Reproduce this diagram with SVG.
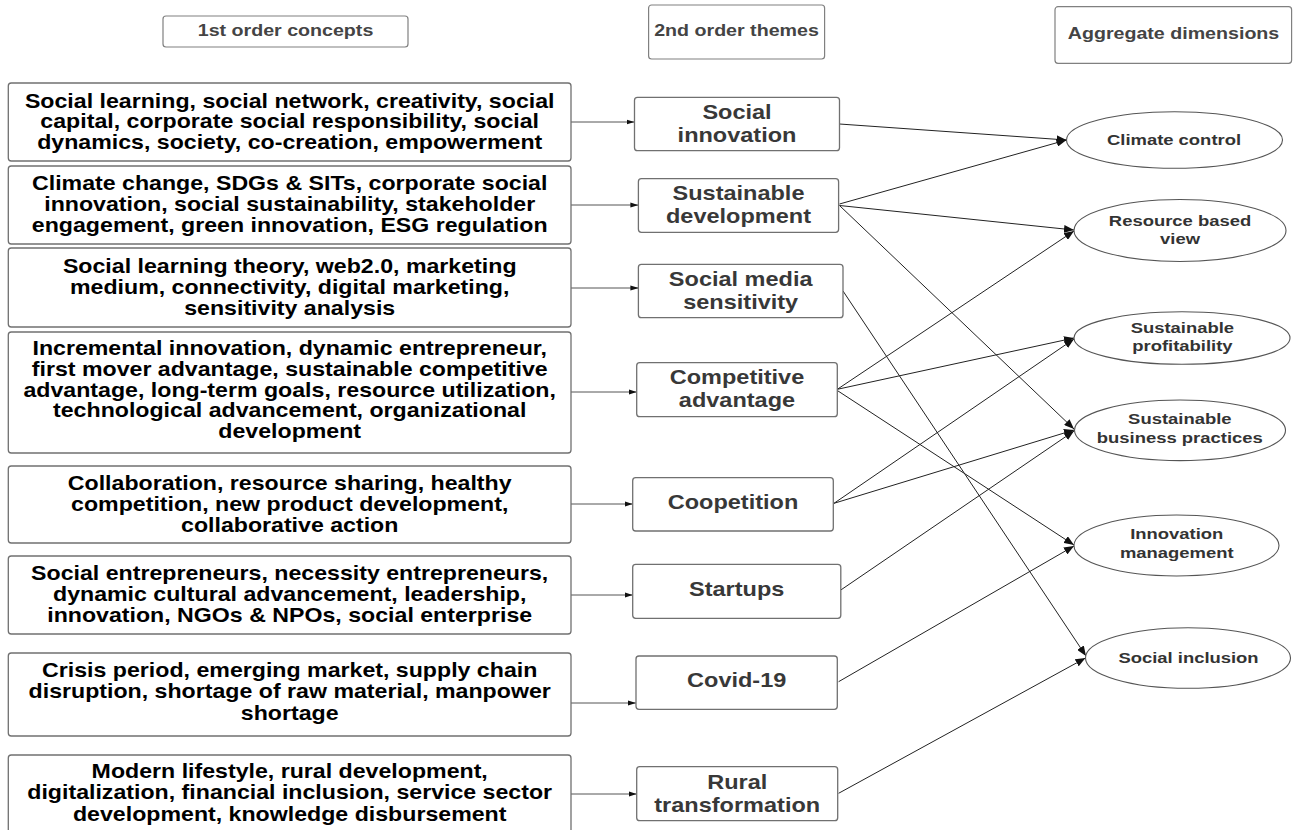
<svg xmlns="http://www.w3.org/2000/svg" width="1293" height="830" viewBox="0 0 1293 830">
<style>
.box{fill:#fff;stroke:#707070;stroke-width:1.3}
.hb{fill:#fff;stroke:#808080;stroke-width:1.2}
.el{fill:#fff;stroke:#555;stroke-width:1.1}
.t{font-family:"Liberation Sans",Arial,sans-serif;font-weight:bold;text-anchor:middle}
.l{font-size:19.8px;fill:#000}
.m{font-size:21px;fill:#383838}
.h{font-size:16.5px;fill:#444}
.e{font-size:15.5px;fill:#333}
.c{stroke:#222;stroke-width:1;fill:none}
.lc{stroke:#555;stroke-width:1;fill:none}
</style>
<defs>
<marker id="ab" markerUnits="userSpaceOnUse" markerWidth="11" markerHeight="8" refX="10" refY="4" orient="auto">
<path d="M0,0 L10,4 L0,8 z" fill="#111"/>
</marker>
<marker id="as" markerUnits="userSpaceOnUse" markerWidth="8" markerHeight="6" refX="8" refY="3" orient="auto">
<path d="M0,0.5 L8,3 L0,5.5 z" fill="#111"/>
</marker>
</defs>
<rect width="1293" height="830" fill="#fff"/>

<g id="headers">
<g id="h1"><rect class="hb" x="163" y="16" width="245" height="31" rx="3"/><text class="t h" transform="translate(285.5,36) scale(1.19,1)">1st order concepts</text></g>
<g id="h2"><rect class="hb" x="648.6" y="5" width="176" height="54" rx="3"/><text class="t h" transform="translate(736.5,36) scale(1.19,1)">2nd order themes</text></g>
<g id="h3"><rect class="hb" x="1055" y="6.7" width="236.6" height="56.6" rx="3"/><text class="t h" transform="translate(1173.5,39) scale(1.19,1)">Aggregate dimensions</text></g>
</g>

<g id="connectors">
<line class="lc" x1="571" y1="122" x2="634.5" y2="122" marker-end="url(#as)"/>
<line class="lc" x1="571" y1="205" x2="638.4" y2="205" marker-end="url(#as)"/>
<line class="lc" x1="571" y1="288" x2="638.4" y2="288" marker-end="url(#as)"/>
<line class="lc" x1="571" y1="392" x2="636.7" y2="392" marker-end="url(#as)"/>
<line class="lc" x1="571" y1="504" x2="632.7" y2="504" marker-end="url(#as)"/>
<line class="lc" x1="571" y1="595" x2="632.7" y2="595" marker-end="url(#as)"/>
<line class="lc" x1="571" y1="703" x2="636" y2="703" marker-end="url(#as)"/>
<line class="lc" x1="571" y1="794" x2="636.7" y2="794" marker-end="url(#as)"/>

<line class="c" x1="839.5" y1="124" x2="1066.5" y2="140" marker-end="url(#ab)"/>
<line class="c" x1="839.5" y1="204" x2="1066.5" y2="140" marker-end="url(#ab)"/>
<line class="c" x1="839.5" y1="205.5" x2="1074" y2="230" marker-end="url(#ab)"/>
<line class="c" x1="839.5" y1="205.5" x2="1074" y2="429" marker-end="url(#ab)"/>
<line class="c" x1="843" y1="291" x2="1086" y2="656" marker-end="url(#ab)"/>
<line class="c" x1="837.3" y1="389.3" x2="1074" y2="231" marker-end="url(#ab)"/>
<line class="c" x1="837.3" y1="389.3" x2="1074" y2="338" marker-end="url(#ab)"/>
<line class="c" x1="837.3" y1="390.5" x2="1074" y2="545" marker-end="url(#ab)"/>
<line class="c" x1="834" y1="503.3" x2="1074" y2="339" marker-end="url(#ab)"/>
<line class="c" x1="834" y1="503.3" x2="1074" y2="430" marker-end="url(#ab)"/>
<line class="c" x1="840.8" y1="590" x2="1074" y2="431" marker-end="url(#ab)"/>
<line class="c" x1="838.6" y1="681.7" x2="1074" y2="546" marker-end="url(#ab)"/>
<line class="c" x1="838.6" y1="793.3" x2="1085.5" y2="658" marker-end="url(#ab)"/>
</g>

<g id="c1"><rect class="box" x="8.3" y="83" width="562.7" height="78" rx="3"/>
<text class="t l" transform="translate(289.7,107.5) scale(1.17,1)"><tspan x="0">Social learning, social network, creativity, social</tspan><tspan x="0" dy="21">capital, corporate social responsibility, social</tspan><tspan x="0" dy="21">dynamics, society, co-creation, empowerment</tspan></text></g>
<g id="c2"><rect class="box" x="8.3" y="166" width="562.7" height="78" rx="3"/>
<text class="t l" transform="translate(289.7,190) scale(1.17,1)"><tspan x="0">Climate change, SDGs &amp; SITs, corporate social</tspan><tspan x="0" dy="21">innovation, social sustainability, stakeholder</tspan><tspan x="0" dy="21">engagement, green innovation, ESG regulation</tspan></text></g>
<g id="c3"><rect class="box" x="8.3" y="248" width="562.7" height="79" rx="3"/>
<text class="t l" transform="translate(289.7,273) scale(1.17,1)"><tspan x="0">Social learning theory, web2.0, marketing</tspan><tspan x="0" dy="21">medium, connectivity, digital marketing,</tspan><tspan x="0" dy="21">sensitivity analysis</tspan></text></g>
<g id="c4"><rect class="box" x="8.3" y="332" width="562.7" height="121" rx="3"/>
<text class="t l" transform="translate(289.7,355) scale(1.17,1)"><tspan x="0">Incremental innovation, dynamic entrepreneur,</tspan><tspan x="0" dy="20.8">first mover advantage, sustainable competitive</tspan><tspan x="0" dy="20.8">advantage, long-term goals, resource utilization,</tspan><tspan x="0" dy="20.8">technological advancement, organizational</tspan><tspan x="0" dy="20.8">development</tspan></text></g>
<g id="c5"><rect class="box" x="8.3" y="466" width="562.7" height="77" rx="3"/>
<text class="t l" transform="translate(289.7,490) scale(1.17,1)"><tspan x="0">Collaboration, resource sharing, healthy</tspan><tspan x="0" dy="21">competition, new product development,</tspan><tspan x="0" dy="21">collaborative action</tspan></text></g>
<g id="c6"><rect class="box" x="8.3" y="556" width="562.7" height="78" rx="3"/>
<text class="t l" transform="translate(289.7,580) scale(1.17,1)"><tspan x="0">Social entrepreneurs, necessity entrepreneurs,</tspan><tspan x="0" dy="21">dynamic cultural advancement, leadership,</tspan><tspan x="0" dy="21">innovation, NGOs &amp; NPOs, social enterprise</tspan></text></g>
<g id="c7"><rect class="box" x="8.3" y="653" width="562.7" height="83" rx="3"/>
<text class="t l" transform="translate(289.7,677) scale(1.17,1)"><tspan x="0">Crisis period, emerging market, supply chain</tspan><tspan x="0" dy="21.5">disruption, shortage of raw material, manpower</tspan><tspan x="0" dy="21.5">shortage</tspan></text></g>
<g id="c8"><rect class="box" x="8.3" y="755" width="562.7" height="80" rx="3"/>
<text class="t l" transform="translate(289.7,778) scale(1.17,1)"><tspan x="0">Modern lifestyle, rural development,</tspan><tspan x="0" dy="21.5">digitalization, financial inclusion, service sector</tspan><tspan x="0" dy="21.5">development, knowledge disbursement</tspan></text></g>

<g id="t1"><rect class="box" x="634.5" y="97.3" width="205" height="53.4" rx="3"/>
<text class="t m" transform="translate(737,118.5) scale(1.12,1)"><tspan x="0">Social</tspan><tspan x="0" dy="23.5">innovation</tspan></text></g>
<g id="t2"><rect class="box" x="638.4" y="178.7" width="200.2" height="53.6" rx="3"/>
<text class="t m" transform="translate(738.5,199.5) scale(1.12,1)"><tspan x="0">Sustainable</tspan><tspan x="0" dy="23.5">development</tspan></text></g>
<g id="t3"><rect class="box" x="638.4" y="264.3" width="204.6" height="53.4" rx="3"/>
<text class="t m" transform="translate(740.7,285.5) scale(1.12,1)"><tspan x="0">Social media</tspan><tspan x="0" dy="23.5">sensitivity</tspan></text></g>
<g id="t4"><rect class="box" x="636.7" y="362.7" width="200.6" height="54" rx="3"/>
<text class="t m" transform="translate(737,383.5) scale(1.12,1)"><tspan x="0">Competitive</tspan><tspan x="0" dy="23.5">advantage</tspan></text></g>
<g id="t5"><rect class="box" x="632.7" y="477.7" width="200.6" height="53.3" rx="3"/>
<text class="t m" transform="translate(733,508.5) scale(1.12,1)">Coopetition</text></g>
<g id="t6"><rect class="box" x="632.7" y="564.3" width="208.1" height="54" rx="3"/>
<text class="t m" transform="translate(736.7,595.5) scale(1.12,1)">Startups</text></g>
<g id="t7"><rect class="box" x="636" y="656" width="201.3" height="53.3" rx="3"/>
<text class="t m" transform="translate(736.7,687) scale(1.12,1)">Covid-19</text></g>
<g id="t8"><rect class="box" x="636.7" y="766.7" width="201" height="54" rx="3"/>
<text class="t m" transform="translate(737.2,788.5) scale(1.12,1)"><tspan x="0">Rural</tspan><tspan x="0" dy="23.5">transformation</tspan></text></g>

<g id="d1"><ellipse class="el" cx="1174.5" cy="140" rx="108" ry="28.3"/>
<text class="t e" transform="translate(1174,144.5) scale(1.19,1)">Climate control</text></g>
<g id="d2"><ellipse class="el" cx="1180" cy="230.5" rx="106" ry="31"/>
<text class="t e" transform="translate(1180,225.7) scale(1.19,1)"><tspan x="0">Resource based</tspan><tspan x="0" dy="18.8">view</tspan></text></g>
<g id="d3"><ellipse class="el" cx="1182" cy="338" rx="108" ry="26.3"/>
<text class="t e" transform="translate(1182.4,332.7) scale(1.19,1)"><tspan x="0">Sustainable</tspan><tspan x="0" dy="18.5">profitability</tspan></text></g>
<g id="d4"><ellipse class="el" cx="1180" cy="430.3" rx="105.5" ry="30.3"/>
<text class="t e" transform="translate(1179.8,424.3) scale(1.19,1)"><tspan x="0">Sustainable</tspan><tspan x="0" dy="18.5">business practices</tspan></text></g>
<g id="d5"><ellipse class="el" cx="1176.5" cy="545.5" rx="102.5" ry="30.5"/>
<text class="t e" transform="translate(1176.7,539.3) scale(1.19,1)"><tspan x="0">Innovation</tspan><tspan x="0" dy="18.5">management</tspan></text></g>
<g id="d6"><ellipse class="el" cx="1188" cy="658" rx="102.5" ry="30.3"/>
<text class="t e" transform="translate(1188.5,662.5) scale(1.19,1)">Social inclusion</text></g>
</svg>
